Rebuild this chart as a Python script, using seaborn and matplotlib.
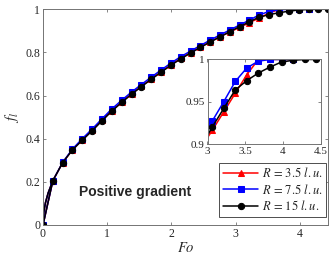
"""
Liquid fraction vs Fourier number, positive gradient case.
"""

import matplotlib
matplotlib.use('Agg')
import matplotlib.pyplot as plt
import seaborn as sns
import pandas as pd
import numpy as np

# Fourier number at the marker points
fo = [0.0, 0.153, 0.306, 0.459, 0.612, 0.766, 0.919, 1.072, 1.225, 1.378,
      1.531, 1.684, 1.837, 1.990, 2.143, 2.297, 2.450, 2.603, 2.756, 2.909,
      3.062, 3.215, 3.368, 3.521, 3.674, 3.828, 3.981, 4.134, 4.287, 4.440]

# liquid fraction
f_r35 = [0.0, 0.205, 0.289, 0.349, 0.395, 0.439, 0.485, 0.530, 0.570, 0.608,
         0.643, 0.677, 0.710, 0.742, 0.772, 0.799, 0.825, 0.850, 0.873, 0.895,
         0.916, 0.938, 0.960, 0.982, 1.000, 1.000, 1.000, 1.000]
f_r75 = [0.0, 0.205, 0.290, 0.352, 0.400, 0.445, 0.492, 0.538, 0.578, 0.616,
         0.651, 0.685, 0.718, 0.750, 0.780, 0.806, 0.832, 0.857, 0.881, 0.904,
         0.927, 0.950, 0.974, 0.990, 0.998, 1.000, 1.000, 1.000]
f_r15 = [0.0, 0.205, 0.289, 0.348, 0.393, 0.437, 0.483, 0.528, 0.568, 0.606,
         0.641, 0.675, 0.708, 0.740, 0.770, 0.797, 0.823, 0.848, 0.872, 0.896,
         0.920, 0.942, 0.964, 0.975, 0.984, 0.991, 0.997, 0.999, 1.000, 1.000]

# the line between the first two markers is curved (denser output there)
fo_start = [0.0, 0.004, 0.015, 0.04, 0.08, 0.153]
f_start = [0.0, 0.035, 0.065, 0.105, 0.148, 0.205]

series = [
    (f_r35, 'red', '^', r'$R\,=\,3.5\ l.u.$'),
    (f_r75, 'blue', 's', r'$R\,=\,7.5\ l.u.$'),
    (f_r15, 'black', 'o', r'$R\,=\,15\ l.u.$'),
]

sns.set_style('ticks')
plt.rcParams['font.family'] = ['Liberation Serif', 'DejaVu Serif']
plt.rcParams['mathtext.fontset'] = 'stix'

fig = plt.figure(figsize=(3.32, 2.65), dpi=100)
ax = fig.add_axes([0.1295, 0.151, 0.859, 0.814])
ins = fig.add_axes([0.625, 0.4566, 0.341, 0.319])


def draw(a, ms, label=True):
    for vals, col, mk, lab in series:
        sns.lineplot(x=fo_start, y=f_start, color=col, linewidth=1.1,
                     ax=a, sort=False, legend=False)
        sns.lineplot(x=fo[:len(vals)], y=vals, color=col, marker=mk,
                     markersize=ms, markeredgecolor=col, linewidth=1.1,
                     ax=a, sort=False, label=lab if label else None,
                     legend=False)


def style(a):
    for s in a.spines.values():
        s.set_color('0.45')
        s.set_linewidth(0.7)
    a.tick_params(direction='in', length=2.5, width=0.6, color='0.45',
                  labelsize=8.5, labelcolor='0.15', top=True, right=True,
                  pad=2)


draw(ax, 4.5)
ax.set_xlim(0, 4.44)
ax.set_ylim(0, 1)
ax.set_xticks([0, 1, 2, 3, 4])
ax.set_xticklabels(['0', '1', '2', '3', '4'])
ax.set_yticks([0, 0.2, 0.4, 0.6, 0.8, 1])
ax.set_yticklabels(['0', '0.2', '0.4', '0.6', '0.8', '1'])
ax.set_xlabel(r'$Fo$', fontsize=10.5, labelpad=1)
ax.set_ylabel(r'$f_l$', fontsize=10.5, labelpad=3)
style(ax)

draw(ins, 4.5, label=False)
ins.set_xlim(3, 4.5)
ins.set_ylim(0.9, 1)
ins.set_xticks([3, 3.5, 4, 4.5])
ins.set_xticklabels(['3', '3.5', '4', '4.5'])
ins.set_yticks([0.9, 0.95, 1])
ins.set_yticklabels(['0.9', '0.95', '1'])
ins.set_xlabel('')
ins.set_ylabel('')
style(ins)
ins.tick_params(labelsize=8)

handles, labels = ax.get_legend_handles_labels()
leg = ax.legend(handles, labels, loc='lower right',
                bbox_to_anchor=(0.982, 0.181), bbox_transform=fig.transFigure,
                borderaxespad=0, fancybox=False, framealpha=1,
                edgecolor='0.3', fontsize=9, handlelength=2.8,
                handletextpad=0.3, labelspacing=0.2, borderpad=0.3)
leg.get_frame().set_linewidth(0.7)

fig.text(0.238, 0.277, 'Positive gradient', family='Liberation Sans',
         fontweight='bold', fontsize=10, va='center', ha='left')

fig.savefig('out.png', dpi=100)
